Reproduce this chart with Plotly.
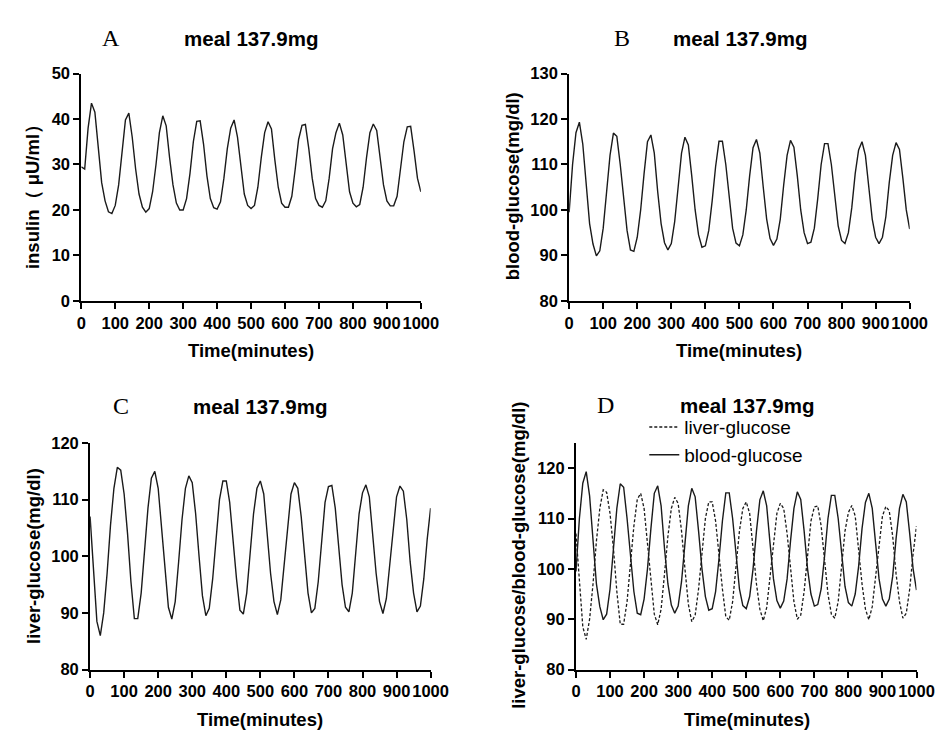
import plotly.graph_objects as go

# time axis, sampled every 10 minutes
time_min = list(range(0, 1001, 10))

insulin = [
    29.5, 29.0, 38.0, 43.5, 41.5, 33.0, 26.0, 22.0, 19.6, 19.2,
    21.0, 25.5, 32.5, 39.8, 41.3, 36.0, 29.0, 23.5, 20.6, 19.5,
    20.3, 24.0, 30.0, 37.0, 40.7, 38.5, 31.5, 25.5, 21.5, 20.0,
    20.0, 22.5, 28.0, 35.0, 39.5, 39.6, 34.5, 27.5, 22.5, 20.5,
    20.2, 21.8, 27.0, 33.5, 38.0, 39.8, 36.0, 29.0, 23.5, 21.0,
    20.3, 21.0, 25.0, 31.5, 37.0, 39.4, 37.8, 31.0, 25.0, 21.5,
    20.6, 20.6, 23.0, 29.0, 35.5, 38.6, 38.8, 33.5, 27.0, 22.5,
    21.0, 20.6, 22.0, 27.0, 33.5, 37.0, 39.1, 36.5, 29.5, 24.0,
    21.5, 20.7, 21.2, 25.0, 31.5, 37.0, 38.9, 37.5, 31.5, 25.5,
    22.0, 20.9, 20.9, 23.0, 29.0, 35.0, 38.3, 38.4, 33.0, 27.0,
    24.0,
]

blood_glucose = [
    99.5, 110.0, 117.0, 119.3, 114.5, 105.0, 97.0, 92.5, 89.9, 91.0,
    96.0, 104.0, 112.0, 116.9, 116.2, 110.0, 102.0, 95.5, 91.2, 90.9,
    94.0, 100.0, 108.0, 115.0, 116.5, 112.5, 104.0, 97.0, 92.8, 91.2,
    92.6, 97.5, 105.0, 112.5, 116.0, 114.3, 107.5, 100.0, 94.5, 91.8,
    92.1, 95.5, 102.0, 109.5, 115.1, 115.1, 110.0, 102.5, 96.0, 92.7,
    92.1, 94.5, 100.0, 107.5, 113.7, 115.5, 112.5, 105.0, 98.0, 93.7,
    92.2, 93.6, 98.0, 105.5, 112.0, 115.3, 113.8, 107.5, 100.0, 95.0,
    92.6, 92.9, 96.0, 102.5, 110.0, 114.6, 114.6, 110.0, 102.5, 96.5,
    93.3, 92.6, 95.0, 100.5, 108.0, 113.2, 115.0, 112.0, 105.0, 98.0,
    94.0, 92.6, 94.0, 98.5, 106.0, 112.0, 114.8, 113.3, 107.0, 100.0,
    95.8,
]

liver_glucose = [
    107.0, 98.0, 88.5, 86.0, 90.0, 97.0, 105.5, 112.0, 115.7, 115.2,
    111.0, 104.0, 95.5, 89.0, 89.0, 93.5, 101.0, 108.5, 113.8, 115.0,
    112.0, 105.0, 97.5, 91.0, 88.9, 92.0, 99.0, 106.5, 112.0, 114.2,
    113.0, 107.5, 100.0, 93.0, 89.5, 90.8, 96.0, 103.5, 110.0, 113.3,
    113.3, 109.5, 102.5, 96.0, 90.5, 89.8, 93.5, 100.5, 107.5, 112.0,
    113.3, 111.0, 104.5, 97.0, 92.0, 89.7, 92.3, 98.5, 106.0, 111.0,
    113.0, 112.0, 107.0, 99.5, 93.5, 90.0, 90.8, 95.5, 103.0, 109.5,
    112.3, 112.5, 108.5, 101.5, 95.0, 91.0, 90.2, 93.5, 100.5, 107.5,
    111.2, 112.6, 110.5, 104.0, 97.0, 92.0, 89.9, 92.5, 98.5, 105.5,
    110.5, 112.4, 111.5, 106.5, 99.0, 93.5, 90.2, 91.2, 96.0, 103.0,
    108.5,
]

x_ticks = list(range(0, 1001, 100))

W, H = 947, 733


def px(x):
    return x / W


def py(y):
    return 1 - y / H


SANS = "Liberation Sans, Arial, sans-serif"
LINE = "#1a1a1a"

fig = go.Figure()

line_style = dict(color=LINE, width=1.4)
fig.add_trace(go.Scatter(x=time_min, y=insulin, mode="lines", line=line_style,
                         xaxis="x", yaxis="y", showlegend=False))
fig.add_trace(go.Scatter(x=time_min, y=blood_glucose, mode="lines", line=line_style,
                         xaxis="x2", yaxis="y2", showlegend=False))
fig.add_trace(go.Scatter(x=time_min, y=liver_glucose, mode="lines", line=line_style,
                         xaxis="x3", yaxis="y3", showlegend=False))
fig.add_trace(go.Scatter(x=time_min, y=liver_glucose, mode="lines", name="liver-glucose",
                         line=dict(color=LINE, width=1.3, dash="3px,2px"),
                         xaxis="x4", yaxis="y4", legendgroup="a"))
fig.add_trace(go.Scatter(x=time_min, y=blood_glucose, mode="lines", name="blood-glucose",
                         line=line_style, xaxis="x4", yaxis="y4", legendgroup="b"))

TICKFONT = dict(family=SANS, size=16.5, color="black", weight="bold")


def xax(domain, anchor):
    return dict(domain=domain, anchor=anchor, range=[0, 1000], tickvals=x_ticks,
                tickangle=0, showgrid=False, zeroline=False, showline=True,
                linecolor="black", linewidth=2, ticks="outside", ticklen=6,
                tickwidth=2, tickcolor="black", tickfont=TICKFONT)


def yax(domain, anchor, rng, tv):
    return dict(domain=domain, anchor=anchor, range=rng, tickvals=tv,
                showgrid=False, zeroline=False, showline=True,
                linecolor="black", linewidth=2, ticks="outside", ticklen=6,
                tickwidth=2, tickcolor="black", tickfont=TICKFONT)


top = [py(291), py(58)]
bottom = [py(669), py(436.7)]

annotations = []


def label(text, x, y, size, angle=0, family=SANS, bold=True):
    annotations.append(dict(
        text=text, x=px(x), y=py(y), xref="paper", yref="paper",
        showarrow=False, textangle=angle, xanchor="center", yanchor="middle",
        font=dict(family=family, size=size, color="black",
                  weight="bold" if bold else "normal")))


panels = [
    # letter, letter x, title x, title y, x-title x, x-title y, y-title, y-title x, y-title y
    ("A", 100, 244, 22, 244, 342, "insulin（ μU/ml）", 20, 180),
    ("B", 624, 745, 22, 744, 342, "blood-glucose(mg/dl)", 512, 174),
    ("C", 111, 253, 399, 253, 720, "liver-glucose(mg/dl)", 21, 552),
    ("D", 607, 752, 398, 752, 720, "liver-glucose/blood-glucose(mg/dl)", 518, 552),
]
for letter, lx, tx, ty, xtx, xty, ytext, ytx, yty in panels:
    label(letter, lx, ty, 24, family="Liberation Serif, Times New Roman, serif", bold=False)
    label("meal 137.9mg", tx, ty, 20.5)
    label("Time(minutes)", xtx, xty, 18.5)
    label(ytext, ytx, yty, 18.5, angle=-90)

fig.update_layout(
    width=W, height=H,
    margin=dict(l=0, r=0, t=0, b=0),
    paper_bgcolor="white", plot_bgcolor="white",
    xaxis=xax([px(70), px(418)], "y"),
    yaxis=yax(top, "x", [0, 50], [0, 10, 20, 30, 40, 50]),
    xaxis2=xax([px(570), px(919)], "y2"),
    yaxis2=yax(top, "x2", [80, 130], [80, 90, 100, 110, 120, 130]),
    xaxis3=xax([px(79), px(428)], "y3"),
    yaxis3=yax(bottom, "x3", [80, 120], [80, 90, 100, 110, 120]),
    xaxis4=xax([px(577), px(926)], "y4"),
    yaxis4=yax(bottom, "x4", [80, 125], [80, 90, 100, 110, 120]),
    annotations=annotations,
    showlegend=True,
    legend=dict(x=px(647), y=py(401), xanchor="left", yanchor="top",
                bgcolor="rgba(0,0,0,0)", tracegroupgap=0,
                font=dict(family=SANS, size=19, color="black")),
)

fig.write_html("out.html")
